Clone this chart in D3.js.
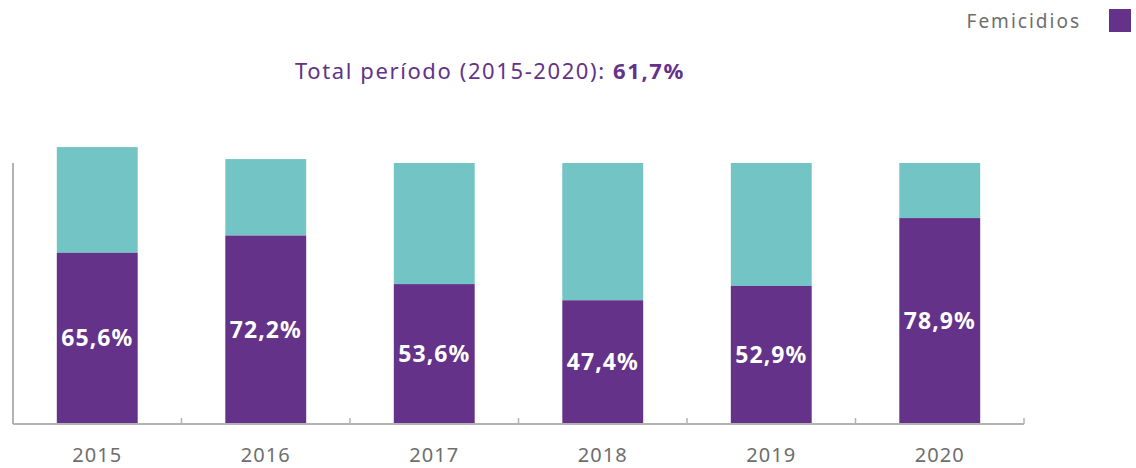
<!DOCTYPE html>
<html>
<head>
<meta charset="utf-8">
<script src="https://cdn.jsdelivr.net/npm/d3@7"></script>
<style>
  body { margin: 0; background: #fff; }
  svg { display: block; font-family: "Noto Sans", sans-serif; }
</style>
</head>
<body>
<div id="chart"></div>
<script>
// data (percent scale, 100 = axis top)
var years = ["2015", "2016", "2017", "2018", "2019", "2020"];
var femicidios = [65.6, 72.2, 53.6, 47.4, 52.9, 78.9];
var barTotals = [106.1, 101.5, 100, 100, 100, 100];
var pctLabels = ["65,6%", "72,2%", "53,6%", "47,4%", "52,9%", "78,9%"];
var totalPeriodo = "61,7%";

var purple = "#643289";
var teal = "#72c5c4";
var grey = "#6e6e6e";

var width = 1136, height = 468;
var svg = d3.select("#chart").append("svg")
    .attr("width", width)
    .attr("height", height);

var x = d3.scaleBand()
    .domain(years)
    .range([13, 1024])
    .paddingInner(0.52)
    .paddingOuter(0.26);

var y = d3.scaleLinear()
    .domain([0, 100])
    .range([424, 163]);

// teal part (rest)
svg.selectAll(".rest")
  .data(years)
  .enter().append("rect")
    .attr("class", "rest")
    .attr("x", d => x(d))
    .attr("width", x.bandwidth())
    .attr("y", (d, i) => y(barTotals[i]))
    .attr("height", (d, i) => y(femicidios[i]) - y(barTotals[i]))
    .style("fill", teal);

// purple part
svg.selectAll(".fem")
  .data(years)
  .enter().append("rect")
    .attr("class", "fem")
    .attr("x", d => x(d))
    .attr("width", x.bandwidth())
    .attr("y", (d, i) => y(femicidios[i]))
    .attr("height", (d, i) => y(0) - y(femicidios[i]))
    .style("fill", purple);

svg.selectAll(".lbl")
  .data(years)
  .enter().append("text")
    .attr("class", "lbl")
    .attr("x", d => x(d) + x.bandwidth() / 2)
    .attr("y", (d, i) => y(femicidios[i] / 2))
    .attr("dy", "0.35em")
    .attr("text-anchor", "middle")
    .style("fill", "#fff")
    .style("font-weight", "bold")
    .style("font-size", "23px")
    .style("letter-spacing", "1px")
    .text((d, i) => pctLabels[i]);

// x axis with ticks between bands
var xAxis = svg.append("g").attr("transform", "translate(0,424)");
xAxis.append("line")
    .attr("x1", 13).attr("x2", 1024)
    .style("stroke", "#b3b3b3").style("stroke-width", 2);
var edges = years.map(d => x(d) - x.step() * x.paddingInner() / 2).concat([1024]);
xAxis.selectAll(".tk")
  .data(edges)
  .enter().append("line")
    .attr("x1", d => d).attr("x2", d => d)
    .attr("y1", 0).attr("y2", -6)
    .style("stroke", "#b3b3b3").style("stroke-width", 1.5);
xAxis.selectAll(".yr")
  .data(years)
  .enter().append("text")
    .attr("x", d => x(d) + x.bandwidth() / 2)
    .attr("y", 38)
    .attr("text-anchor", "middle")
    .style("fill", grey)
    .style("font-size", "20px")
    .style("letter-spacing", "1px")
    .text(d => d);

// y axis line
svg.append("line")
    .attr("x1", 13).attr("x2", 13)
    .attr("y1", y(100)).attr("y2", y(0))
    .style("stroke", "#b3b3b3").style("stroke-width", 2);

// title
var title = svg.append("text")
    .attr("x", 490)
    .attr("y", 79)
    .attr("text-anchor", "middle")
    .style("fill", purple)
    .style("font-size", "22px")
    .style("letter-spacing", "1.6px");
title.append("tspan").text("Total período (2015-2020): ");
title.append("tspan").style("font-weight", "bold").text(totalPeriodo);

// legend
svg.append("rect")
    .attr("x", 1109).attr("y", 9)
    .attr("width", 22).attr("height", 23)
    .style("fill", purple);
svg.append("text")
    .attr("x", 1081).attr("y", 28)
    .attr("text-anchor", "end")
    .style("fill", grey)
    .style("font-size", "19px")
    .style("letter-spacing", "2px")
    .text("Femicidios");
</script>
</body>
</html>
